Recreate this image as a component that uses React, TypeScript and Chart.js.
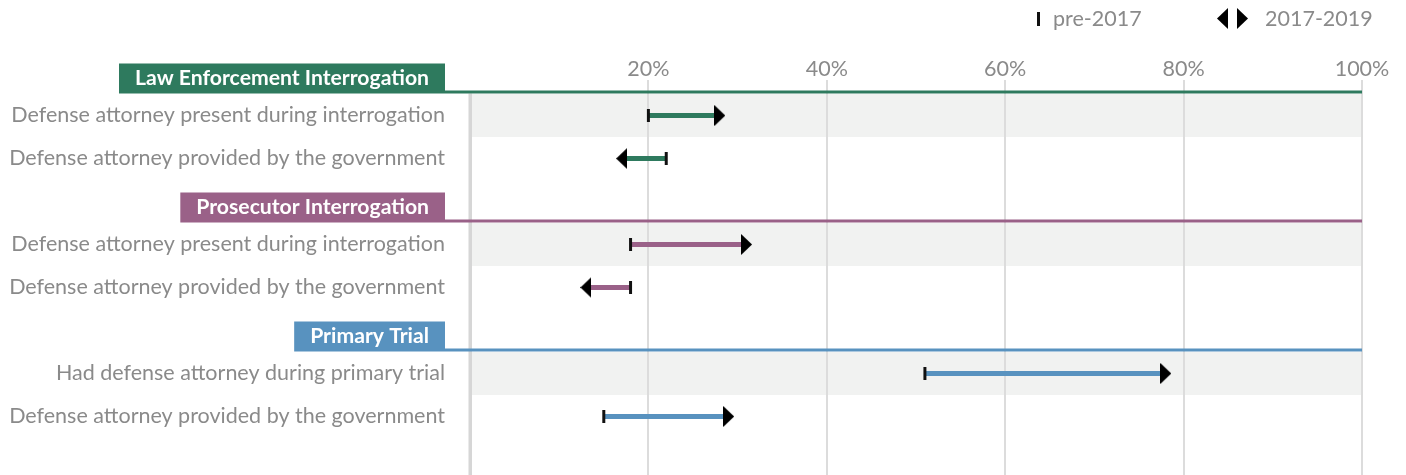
import React, { useEffect, useRef } from 'react';
import { Chart, registerables } from 'chart.js';

Chart.register(...registerables);

// ---------- data ----------
const groups = ['Law Enforcement Interrogation', 'Prosecutor Interrogation', 'Primary Trial'];
const groupColors = ['#2e7a5e', '#9a6188', '#5892bf'];
const categories = [
  'Defense attorney present during interrogation',
  'Defense attorney provided by the government',
  'Defense attorney present during interrogation',
  'Defense attorney provided by the government',
  'Had defense attorney during primary trial',
  'Defense attorney provided by the government',
];
const categoryGroup = [0, 0, 1, 1, 2, 2];
const pre2017 = [20, 22, 18, 18, 51, 15];
const y2017to2019 = [28, 17, 31, 13, 78, 29];
const xTicks = [0, 20, 40, 60, 80, 100];
const legendLabels = ['pre-2017', '2017-2019'];

const FONT = 'Lato, "Noto Sans", sans-serif';
const LABEL_GREY = '#8a8a8a';
const FS = 21.5;

// row position on the y scale: each group = header slot + its rows
const rowPos = categories.map((_, i) => {
  const g = categoryGroup[i];
  const within = categoryGroup.slice(0, i).filter((x) => x === g).length;
  return g * 3 + 1 + within;
});
const posLabel: Record<number, string> = {};
rowPos.forEach((p, i) => (posLabel[p] = categories[i]));

function makeTriangle(dir: 'right' | 'left', w = 11, h = 21, color = '#000') {
  const c = document.createElement('canvas');
  c.width = w;
  c.height = h;
  const ctx = c.getContext('2d')!;
  ctx.fillStyle = color;
  ctx.beginPath();
  if (dir === 'right') {
    ctx.moveTo(0, 0);
    ctx.lineTo(w, h / 2);
    ctx.lineTo(0, h);
  } else {
    ctx.moveTo(w, 0);
    ctx.lineTo(0, h / 2);
    ctx.lineTo(w, h);
  }
  ctx.closePath();
  ctx.fill();
  return c;
}

export default function App() {
  const ref = useRef<HTMLCanvasElement | null>(null);

  useEffect(() => {
    if (!ref.current) return;
    const triRight = makeTriangle('right');
    const triLeft = makeTriangle('left');

    const decor = {
      id: 'decor',
      beforeDraw(chart: any) {
        const { ctx, chartArea, scales } = chart;
        const y = scales.y;
        ctx.save();
        ctx.fillStyle = '#f1f2f1';
        groups.forEach((_, g) => {
          const firstIdx = categoryGroup.indexOf(g);
          const cy = y.getPixelForValue(rowPos[firstIdx]);
          ctx.fillRect(chartArea.left + 2, cy - 21.5, chartArea.right - chartArea.left - 2, 43);
        });
        ctx.restore();
      },
      beforeDatasetsDraw(chart: any) {
        const { ctx, chartArea, scales } = chart;
        const y = scales.y;
        const x = scales.x;
        ctx.save();
        // left base bar
        const firstY = y.getPixelForValue(rowPos[0]) - 22;
        ctx.fillStyle = '#d6d6d6';
        ctx.fillRect(x.getPixelForValue(0) - 1.5, firstY, 3.5, chartArea.bottom - firstY);
        // group headers
        const right = 437;
        groups.forEach((name, g) => {
          const firstIdx = categoryGroup.indexOf(g);
          const lineY = y.getPixelForValue(rowPos[firstIdx]) - 23.5;
          ctx.fillStyle = groupColors[g];
          ctx.fillRect(right, lineY - 1.5, chartArea.right - right, 3);
          ctx.font = `bold 21.2px ${FONT}`;
          const w = ctx.measureText(name).width;
          const boxW = w + 32;
          ctx.fillRect(right - boxW, lineY + 1.5 - 30, boxW, 30);
          ctx.fillStyle = '#ffffff';
          ctx.textAlign = 'center';
          ctx.textBaseline = 'middle';
          ctx.fillText(name, right - boxW / 2, lineY + 1.5 - 15);
        });
        ctx.restore();
      },
      afterDraw(chart: any) {
        const { ctx } = chart;
        ctx.save();
        ctx.font = `${FS}px ${FONT}`;
        ctx.textBaseline = 'middle';
        ctx.textAlign = 'left';
        // pre-2017
        ctx.fillStyle = '#111';
        ctx.fillRect(1029, 4, 3, 14);
        ctx.fillStyle = LABEL_GREY;
        ctx.fillText(legendLabels[0], 1045, 11);
        // 2017-2019
        ctx.drawImage(triLeft, 1209, 0);
        ctx.drawImage(triRight, 1229, 0);
        ctx.fillText(legendLabels[1], 1257, 11);
        ctx.restore();
      },
    };

    const segDatasets = categories.map((_, i) => ({
      type: 'line' as const,
      data: [
        { x: pre2017[i], y: rowPos[i] },
        { x: y2017to2019[i], y: rowPos[i] },
      ],
      borderColor: groupColors[categoryGroup[i]],
      borderWidth: 5,
      borderCapStyle: 'butt',
      pointRadius: 0,
      showLine: true,
      order: 3,
    }));

    const chart = new Chart(ref.current, {
      type: 'scatter',
      data: {
        datasets: [
          ...segDatasets,
          {
            label: legendLabels[0],
            data: pre2017.map((v, i) => ({ x: v, y: rowPos[i] })),
            pointStyle: 'line',
            rotation: 90,
            radius: 6.5,
            borderWidth: 3,
            borderColor: '#111',
            backgroundColor: '#111',
            order: 1,
          } as any,
          {
            label: legendLabels[1],
            data: y2017to2019.map((v, i) => ({ x: v, y: rowPos[i] })),
            pointStyle: (c: any) =>
              y2017to2019[c.dataIndex] >= pre2017[c.dataIndex] ? triRight : triLeft,
            radius: 10,
            borderWidth: 0,
            order: 1,
          } as any,
        ],
      },
      options: {
        animation: false,
        responsive: false,
        events: [],
        layout: { autoPadding: false, padding: { top: 50, right: 36, bottom: 0, left: 0 } },
        plugins: { legend: { display: false }, tooltip: { enabled: false } },
        scales: {
          x: {
            type: 'linear',
            position: 'top',
            min: 0,
            max: 100,
            afterBuildTicks: (s: any) => {
              s.ticks = xTicks.map((v) => ({ value: v }));
            },
            afterFit: (s: any) => {
              s.height = 22;
              s.paddingLeft = 0;
            },
            ticks: {
              callback: (v: any) => (v === 0 ? '' : `${v}%`),
              color: LABEL_GREY,
              font: { size: FS, family: FONT, lineHeight: 1.0 },
              padding: 0,
              autoSkip: false,
              maxRotation: 0,
            },
            grid: {
              color: (c: any) => (c.tick && c.tick.value === 0 ? 'rgba(0,0,0,0)' : '#dcdcdc'),
              lineWidth: 2,
              drawTicks: false,
            },
            border: { display: false },
          },
          y: {
            type: 'linear',
            reverse: true,
            min: 0.1744,
            max: 9.3605,
            afterBuildTicks: (s: any) => {
              s.ticks = rowPos.map((v) => ({ value: v }));
            },
            afterFit: (s: any) => {
              s.width = 462;
              s.paddingTop = 0;
              s.paddingBottom = 0;
            },
            ticks: {
              callback: (v: any) => posLabel[v] ?? '',
              color: LABEL_GREY,
              font: { size: FS, family: FONT },
              padding: 25,
              autoSkip: false,
            },
            grid: { display: false, drawTicks: false },
            border: { display: false },
          },
        },
      } as any,
      plugins: [decor],
    });
    return () => chart.destroy();
  }, []);

  return (
    <div style={{ position: 'absolute', left: 8, top: 8, width: 1390, height: 467 }}>
      <canvas ref={ref} width={1390} height={467} style={{ display: 'block' }} />
    </div>
  );
}
